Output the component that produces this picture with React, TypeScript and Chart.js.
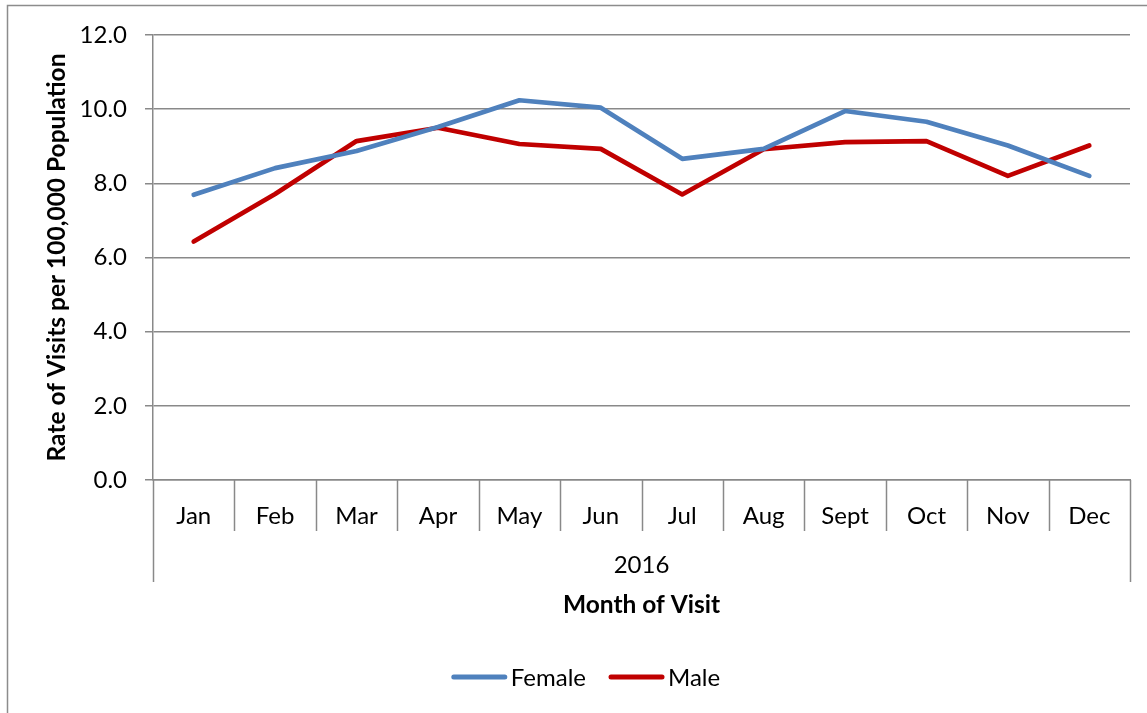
import React, { useEffect, useRef } from "react";
import { Chart, registerables } from "chart.js";

Chart.register(...registerables);

const months = ["Jan", "Feb", "Mar", "Apr", "May", "Jun", "Jul", "Aug", "Sept", "Oct", "Nov", "Dec"];
const groupLabel = "2016";
const female = [7.69, 8.41, 8.87, 9.52, 10.24, 10.04, 8.66, 8.93, 9.95, 9.66, 9.02, 8.2];
const male = [6.43, 7.71, 9.14, 9.5, 9.06, 8.93, 7.7, 8.92, 9.11, 9.14, 8.2, 9.02];
const seriesNames = ["Female", "Male"];
const seriesColors = ["#4F81BD", "#C00000"];
const yTitle = "Rate of Visits per 100,000 Population";
const xTitle = "Month of Visit";

const FONT = "Lato, 'Open Sans', sans-serif";
const GRID = "#898989";
const FS = 24;
const FSB = 24.5;

const extras = {
  id: "extras",
  afterDraw(chart: any) {
    const { ctx, chartArea } = chart;
    const xs = chart.scales.x;
    ctx.save();
    // outer frame
    ctx.strokeStyle = "#8c8c8c";
    ctx.lineWidth = 1.5;
    ctx.beginPath();
    ctx.moveTo(7.5, 720);
    ctx.lineTo(7.5, 5.5);
    ctx.lineTo(1160, 5.5);
    ctx.stroke();
    // category separators
    ctx.strokeStyle = GRID;
    ctx.lineWidth = 1.5;
    const n = months.length;
    for (let i = 0; i <= n; i++) {
      const x = Math.round(xs.getPixelForValue(i - 0.5)) + 0.5;
      const end = i === 0 || i === n ? 582 : 531;
      ctx.beginPath();
      ctx.moveTo(x, chartArea.bottom);
      ctx.lineTo(x, end);
      ctx.stroke();
    }
    // group label
    ctx.fillStyle = "#000";
    ctx.font = `${FS}px ${FONT}`;
    ctx.textAlign = "center";
    ctx.textBaseline = "middle";
    ctx.fillText(groupLabel, (chartArea.left + chartArea.right) / 2, 565);
    // legend
    const cy = 677;
    ctx.font = `${FS}px ${FONT}`;
    const widths = seriesNames.map((s) => ctx.measureText(s).width);
    const sample = 55;
    const gapT = 4;
    const gapI = 23;
    let total = 0;
    widths.forEach((w, i) => {
      total += sample + gapT + w + (i < widths.length - 1 ? gapI : 0);
    });
    let x = 586 - total / 2;
    ctx.textAlign = "left";
    chart.data.datasets.forEach((ds: any, i: number) => {
      ctx.strokeStyle = ds.borderColor;
      ctx.lineWidth = 5;
      ctx.lineCap = "round";
      ctx.beginPath();
      ctx.moveTo(x + 2, cy);
      ctx.lineTo(x + sample - 2, cy);
      ctx.stroke();
      ctx.fillStyle = "#000";
      ctx.fillText(ds.label, x + sample + gapT, cy + 1);
      x += sample + gapT + widths[i] + gapI;
    });
    ctx.restore();
  },
};

export default function App() {
  const ref = useRef<HTMLCanvasElement>(null);
  useEffect(() => {
    document.body.style.margin = "0";
    const chart = new Chart(ref.current!, {
      type: "line",
      data: {
        labels: months,
        datasets: [
          {
            label: seriesNames[0],
            data: female,
            borderColor: seriesColors[0],
            backgroundColor: seriesColors[0],
            borderWidth: 4.7,
            pointRadius: 0,
            borderCapStyle: "round",
            borderJoinStyle: "round",
            tension: 0,
          },
          {
            label: seriesNames[1],
            data: male,
            borderColor: seriesColors[1],
            backgroundColor: seriesColors[1],
            borderWidth: 4.7,
            pointRadius: 0,
            borderCapStyle: "round",
            borderJoinStyle: "round",
            tension: 0,
          },
        ],
      },
      options: {
        responsive: false,
        animation: false,
        layout: { padding: { left: 0, top: 35, right: 17, bottom: 0 } },
        plugins: { legend: { display: false }, tooltip: { enabled: false } },
        scales: {
          x: {
            type: "category",
            offset: true,
            grid: { display: false },
            border: { display: true, color: GRID, width: 1.5 },
            ticks: { color: "#000", font: { family: FONT, size: FS }, padding: 14, maxRotation: 0, autoSkip: false },
            title: {
              display: true,
              text: xTitle,
              color: "#000",
              font: { family: FONT, size: FSB, weight: "bold" },
              padding: { top: 0, bottom: 93 },
            },
            afterFit: (s: any) => {
              s.height = 233;
            },
          },
          y: {
            min: 0,
            max: 12,
            ticks: {
              stepSize: 2,
              color: "#000",
              font: { family: FONT, size: FS },
              padding: 18,
              callback: (v: any) => Number(v).toFixed(1),
            },
            grid: { color: GRID, lineWidth: 1.5, tickLength: 8 },
            border: { display: true, color: GRID, width: 1.5 },
            title: {
              display: true,
              text: yTitle,
              color: "#000",
              font: { family: FONT, size: FSB, weight: "bold" },
              padding: { top: 42, bottom: 0 },
            },
            afterFit: (s: any) => {
              s.width = 153;
            },
          },
        },
      },
      plugins: [extras],
    });
    return () => chart.destroy();
  }, []);
  return <canvas ref={ref} width={1147} height={713} style={{ display: "block" }} />;
}
